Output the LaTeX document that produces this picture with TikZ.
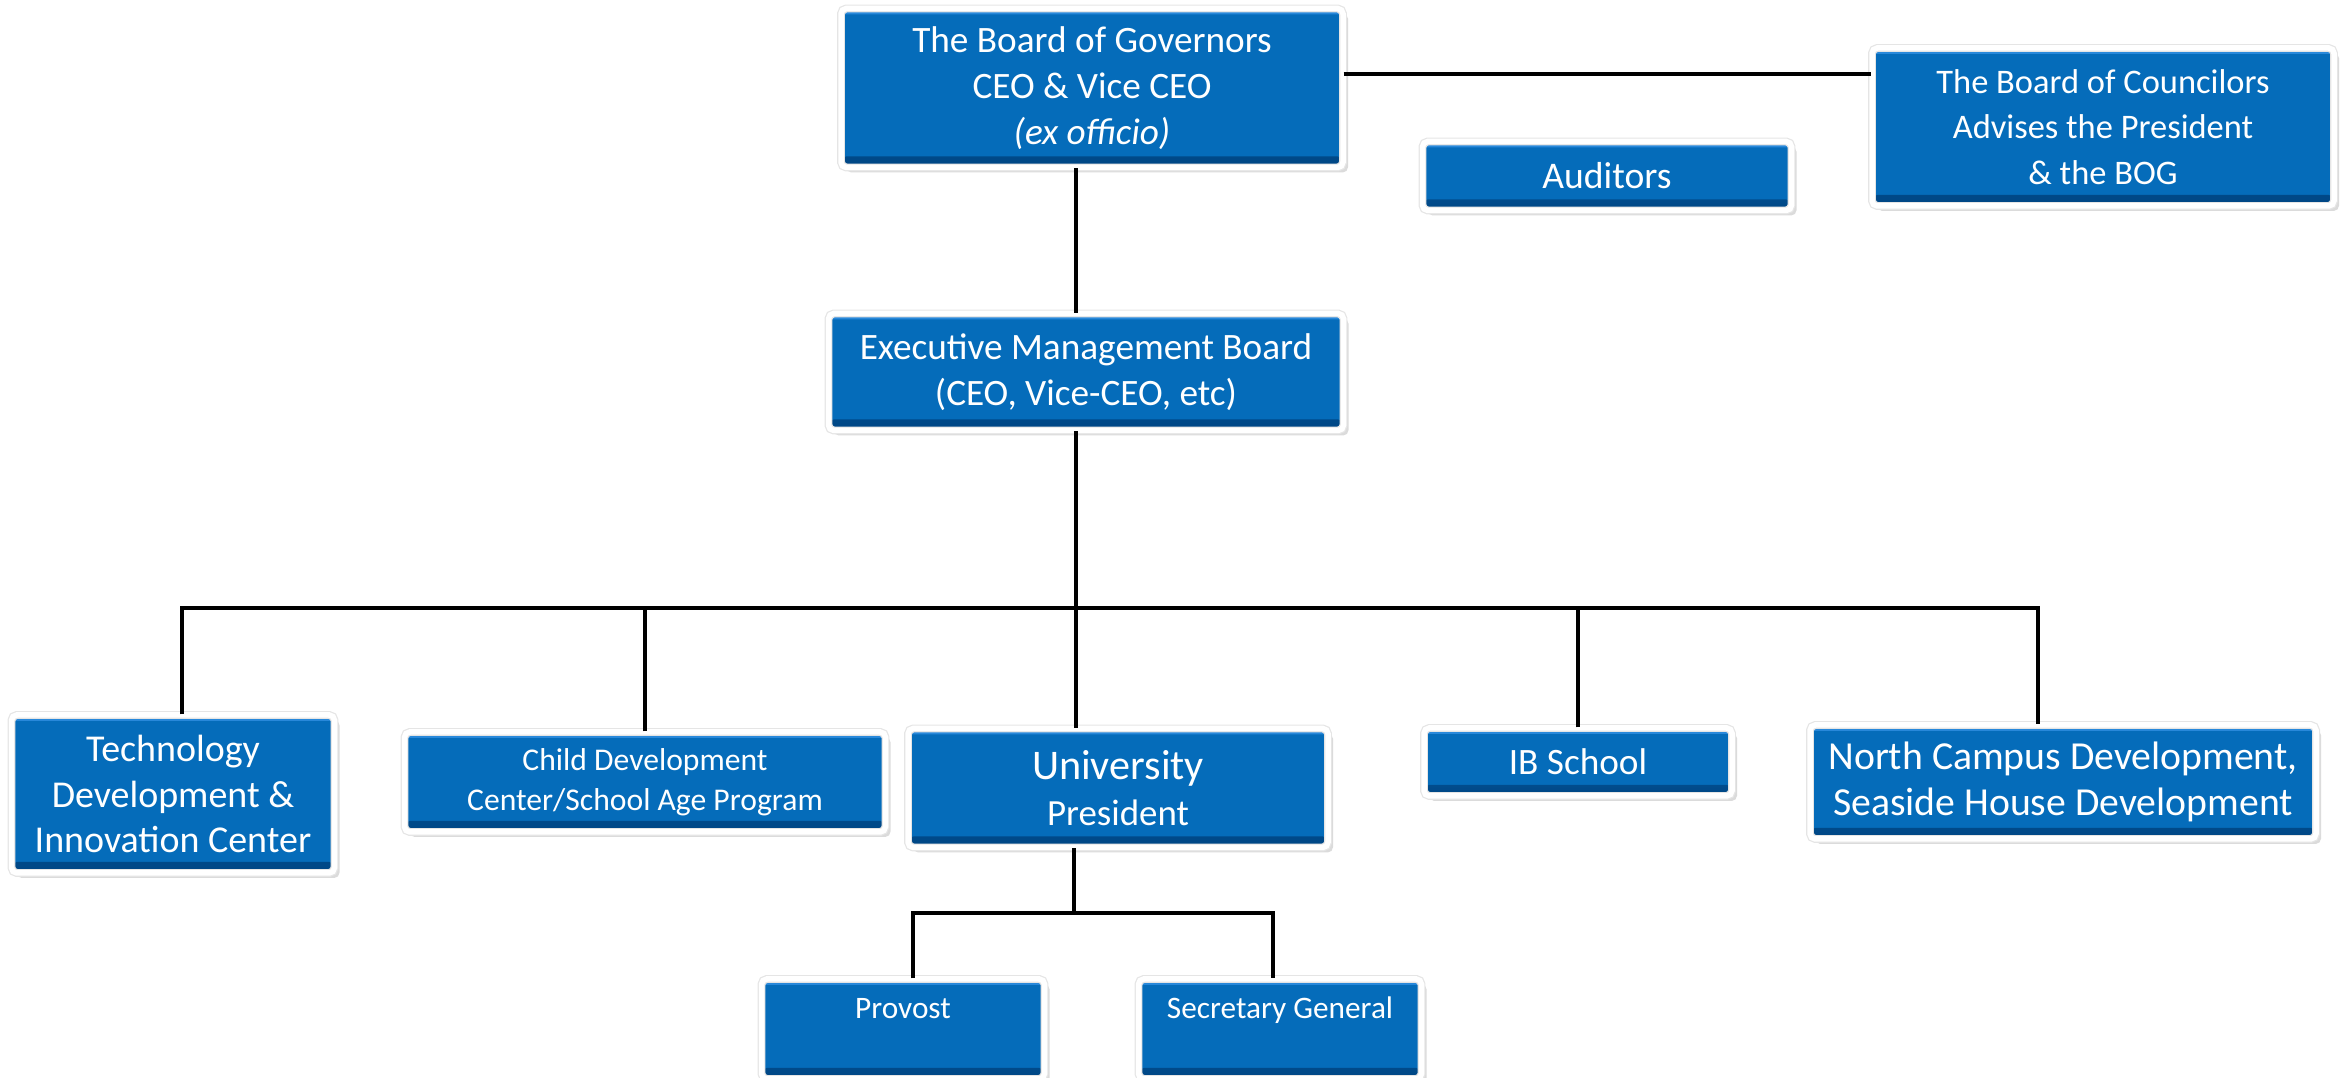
\documentclass[tikz,border=0pt]{standalone}
\usepackage{fontspec}
\setmainfont{Carlito}
\usetikzlibrary{positioning, shadows}
\definecolor{boxblue}{RGB}{5,108,186}
\definecolor{boxdark}{RGB}{0,70,132}
\definecolor{boxlight}{RGB}{40,136,218}
\newcommand{\fsz}[1]{\fontsize{#1}{13}\selectfont}
\begin{document}
\begin{tikzpicture}[on grid, line width=0.9pt,
      orgbox/.style={draw=black!10, double=white, double distance=0.055cm, line width=0.35pt,
        rounded corners=1.5pt, fill=boxblue, text=white, align=center, inner sep=0.1cm,
        font=\fsz{10.6},
        drop shadow={shadow xshift=0.05cm, shadow yshift=-0.05cm, fill=black!14, opacity=1},
        path picture={
          \shade[top color=boxblue, bottom color=boxdark]
            ([yshift=0.11cm]path picture bounding box.south west) rectangle (path picture bounding box.south east);
          \fill[boxlight] ([yshift=-0.06cm]path picture bounding box.north west) rectangle (path picture bounding box.north east);}},
      smallbox/.style={orgbox, font=\fontsize{9}{11.4}\selectfont},
      topbox/.style={smallbox, font=\fontsize{8.9}{11.4}\selectfont, text height=0.22cm, text depth=0.42cm}]
      \useasboundingbox (0,0) rectangle (23.43,-10.78);
      % top level
      \node[orgbox, minimum width=5.02cm, minimum height=1.59cm] (bog) at (10.92,-0.88)
        {The Board of Governors\\CEO \& Vice CEO\\\textit{(ex officio)}};
      \node[orgbox, minimum width=5.15cm, minimum height=1.17cm] (emb) [below=2.84cm of bog, xshift=-0.06cm]
        {Executive Management Board\\(CEO, Vice-CEO, etc)};
      \node[orgbox, font=\fsz{9.8}, minimum width=4.62cm, minimum height=1.58cm] (council) at (21.03,-1.27)
        {The Board of Councilors\\Advises the President\\\& the BOG};
      \node[orgbox, font=\fsz{10.7}, minimum width=3.69cm, minimum height=0.69cm] (auditors) at (16.07,-1.76) {Auditors};
      % units
      \node[orgbox, font=\fsz{10.8}, minimum width=3.23cm, minimum height=1.58cm] (tech) at (1.73,-7.94)
        {Technology\\Development \&\\Innovation Center};
      \node[smallbox, minimum width=4.81cm, minimum height=1.00cm] (child) at (6.45,-7.82)
        {Child Development\\Center/School Age Program};
      \node[orgbox, font=\fsz{10.5}, minimum width=4.20cm, minimum height=1.19cm] (univ) at (11.18,-7.88)
        {{\fsz{12}University}\\President};
      \node[orgbox, minimum width=3.08cm, minimum height=0.68cm] (ib) at (15.78,-7.62) {IB School};
      \node[orgbox, font=\fsz{11.3}, minimum width=5.06cm, minimum height=1.14cm] (north) at (20.63,-7.82)
        {North Campus Development,\\Seaside House Development};
      \node[topbox, minimum width=2.83cm, minimum height=1.00cm] (provost) [below left=2.41cm and 2.15cm of univ] {Provost};
      \node[topbox, minimum width=2.83cm, minimum height=1.00cm] (secretary) [right=3.77cm of provost] {Secretary General};
      % connectors
      \coordinate (spine) at (10.76,-6.08);
      \coordinate (sub) at (10.74,-9.13);
      \draw ([yshift=0.14cm]bog.east) -- ([yshift=0.14cm]bog.east -| council.west);
      \draw (spine |- bog.south) -- (spine |- emb.north);
      \draw (spine |- emb.south) -- (spine |- univ.north);
      \draw ([xshift=0.09cm]tech.north) |- (spine) -| ([xshift=-0.25cm]north.north);
      \foreach \n in {child, ib}
        \draw (\n.north) -- (\n.north |- spine);
      \draw (sub |- univ.south) -- (sub);
      \draw ([xshift=0.1cm]provost.north) |- (sub) -| ([xshift=-0.07cm]secretary.north);
\end{tikzpicture}
\end{document}
